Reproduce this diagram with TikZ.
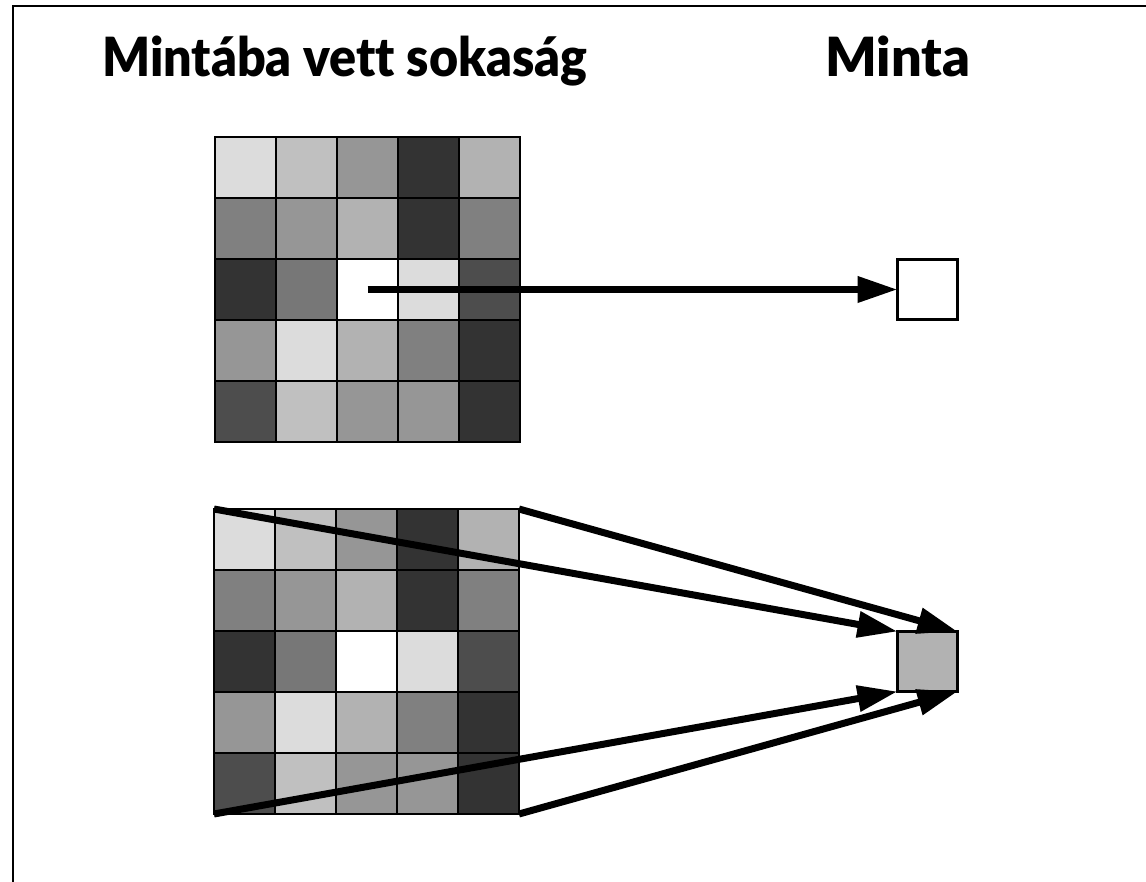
\documentclass[tikz,border=0pt]{standalone}
\usepackage{fontspec}
\setmainfont{Liberation Sans}
\IfFontExistsTF{Lato Black}{%
  \newfontfamily\titlefontA{Lato Black}[Ligatures={NoCommon},FakeStretch=0.93]%
  \newfontfamily\titlefontB{Lato Black}[Ligatures={NoCommon}]%
}{%
  \newfontfamily\titlefontA{Liberation Sans Bold}%
  \newfontfamily\titlefontB{Liberation Sans Bold}%
}
\usetikzlibrary{arrows.meta}
\definecolor{cA}{HTML}{DCDCDC}
\definecolor{cB}{HTML}{C0C0C0}
\definecolor{cC}{HTML}{969696}
\definecolor{cD}{HTML}{333333}
\definecolor{cE}{HTML}{B2B2B2}
\definecolor{cF}{HTML}{808080}
\definecolor{cG}{HTML}{777777}
\definecolor{cH}{HTML}{FFFFFF}
\definecolor{cI}{HTML}{4D4D4D}
\tikzset{
  cell/.style={draw=black,line width=2pt,minimum size=61pt,inner sep=0pt,outer sep=0pt},
  samplebox/.style={draw=black,line width=3pt,minimum size=60pt,inner sep=0pt,outer sep=0pt},
  bigarrow/.style={line width=7pt,-{Triangle[length=40pt,width=25pt]}},
  title/.style={anchor=base west,inner sep=0pt},
  frameline/.style={line width=2pt}
}
\begin{document}
\begin{tikzpicture}[x=1pt,y=-1pt]
\useasboundingbox (0,0) rectangle (1146,882);
\draw[frameline] (13,882) -- (13,6) -- (1146,6);
\node[title,font=\titlefontA\fontsize{54}{62}\selectfont] (t1) at (102,77) {Mintába vett sokaság};
\node[title,font=\titlefontB\fontsize{54}{62}\selectfont] (t2) at (825,77) {Minta};
% grids
\foreach \g/\ox/\oy in {t/215/137, b/214/509}{
  \foreach \row/\cols in {1/{cA,cB,cC,cD,cE},2/{cF,cC,cE,cD,cF},3/{cD,cG,cH,cA,cI},4/{cC,cA,cE,cF,cD},5/{cI,cB,cC,cC,cD}}{
    \foreach \c [count=\col] in \cols{
      \node[cell,fill=\c] (\g-\row-\col) at ({\ox+61*(\col-1)+30.5},{\oy+61*(\row-1)+30.5}) {};
    }
  }
}
\node[samplebox,fill=white] (sA) at (927.5,289.5) {};
\node[samplebox,fill=cE] (sB) at (927.5,661.5) {};
\draw[bigarrow] (t-3-3.center) -- (sA.west);
\coordinate (btl) at (b-1-1.north west);
\coordinate (btr) at (b-1-5.north east);
\coordinate (bbl) at (b-5-1.south west);
\coordinate (bbr) at (b-5-5.south east);
\draw[bigarrow] (btl) -- (sB.north west);
\draw[bigarrow] (btr) -- (sB.north east);
\draw[bigarrow] (bbl) -- (sB.south west);
\draw[bigarrow] (bbr) -- (sB.south east);
\end{tikzpicture}
\end{document}
